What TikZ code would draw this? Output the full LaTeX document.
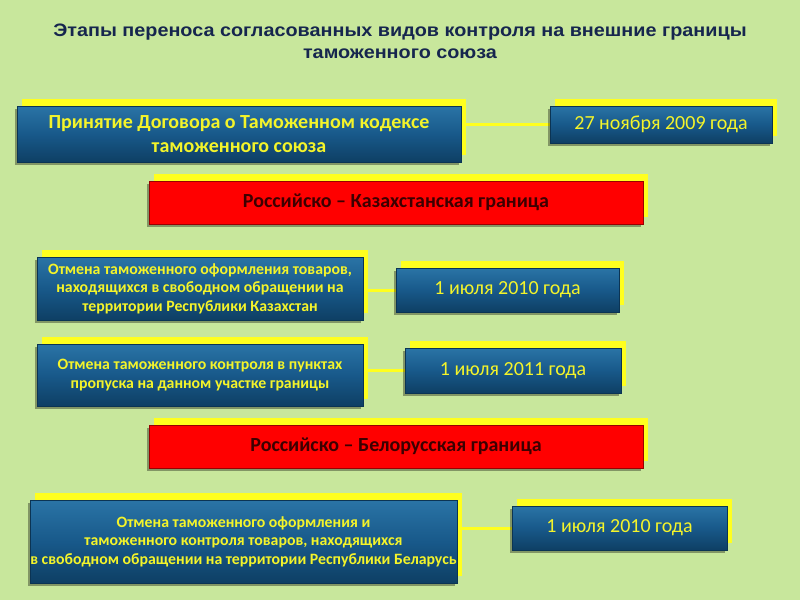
\documentclass[tikz,border=0pt]{standalone}
\usepackage{fontspec}
\setmainfont{Carlito}
\newfontfamily\titlefont[FakeStretch=1.1]{Liberation Sans}
\usetikzlibrary{shadows,backgrounds}
\pgfdeclarelayer{bgfill}
\pgfsetlayers{bgfill,background,main}
\definecolor{bgc}{HTML}{C8E79C}
\definecolor{titlec}{HTML}{16264E}
\definecolor{ylw}{HTML}{FFFF1E}
\definecolor{ytxt}{HTML}{F4F42A}
\definecolor{btop}{HTML}{2A74A6}
\definecolor{bmid}{HTML}{18598A}
\definecolor{bbot}{HTML}{0E3F64}
\definecolor{bedge}{HTML}{0B3454}
\definecolor{rtxt}{HTML}{3C0000}
\tikzset{
  yshadow/.style={general shadow={fill=ylw, shadow xshift=5pt, shadow yshift=7pt}},
  dshadow/.style={general shadow={fill=black, opacity=0.35, shadow xshift=-2pt, shadow yshift=-3pt}},
  bluebox/.style={yshadow, dshadow, draw=bedge, line width=0.6pt,
    top color=btop, bottom color=bbot, middle color=bmid,
    text=ytxt, align=center, inner sep=0pt},
  redbox/.style={yshadow, dshadow, draw=red!60!black, line width=0.6pt, fill=red,
    text=rtxt, align=center, inner sep=0pt,
    font=\fontsize{20}{24}\selectfont\bfseries},
  bigtxt/.style={font=\fontsize{20}{24}\selectfont},
  bigbold/.style={font=\fontsize{20}{24}\selectfont\bfseries},
  smalltxt/.style={font=\fontsize{15.8}{18.5}\selectfont\bfseries},
  conn/.style={draw=ylw, line width=3pt}
}
\begin{document}
\begin{tikzpicture}[x=1pt,y=-1pt]
\useasboundingbox (0,0) rectangle (800,600);
\begin{pgfonlayer}{bgfill}
\fill[bgc] (0,0) rectangle (800,600);
\end{pgfonlayer}
\node[titlec, font=\titlefont\fontsize{18}{22}\selectfont\bfseries, align=center] (title) at (400,41)
  {Этапы переноса согласованных видов контроля на внешние границы\\таможенного союза};

\node[bluebox, bigbold, minimum width=444pt, minimum height=56pt] (a) at (239,134)
  {Принятие Договора о Таможенном кодексе\\таможенного союза};
\node[bluebox, bigtxt, minimum width=222pt, minimum height=37pt] (b) at (661,124.5)
  {27 ноября 2009 года};
\node[redbox, minimum width=494pt, minimum height=43pt] (r1) at (396,202.5)
  {Российско – Казахстанская граница};
\node[bluebox, smalltxt, minimum width=326pt, minimum height=63pt] (c) at (200,288.5)
  {Отмена таможенного оформления товаров,\\находящихся в свободном обращении на\\территории Республики Казахстан};
\node[bluebox, bigtxt, minimum width=223pt, minimum height=44pt] (d) at (507.5,290)
  {1 июля 2010 года};
\node[bluebox, smalltxt, minimum width=326pt, minimum height=62pt] (e) at (200,375)
  {Отмена таможенного контроля в пунктах\\пропуска на данном участке границы};
\node[bluebox, bigtxt, minimum width=216pt, minimum height=45pt] (f) at (513,370.5)
  {1 июля 2011 года};
\node[redbox, minimum width=494pt, minimum height=43pt] (r2) at (396,446.5)
  {Российско – Белорусская граница};
\node[bluebox, smalltxt, minimum width=427pt, minimum height=83pt] (g) at (243.5,541.5)
  {Отмена таможенного оформления и\\таможенного контроля товаров, находящихся\\в свободном обращении на территории Республики Беларусь};
\node[bluebox, bigtxt, minimum width=215pt, minimum height=44pt] (h) at (619.5,528)
  {1 июля 2010 года};

\begin{scope}[on background layer]
\draw[conn] (a.east |- b.west) -- (b.west);
\draw[conn] (c.east |- d.west) -- (d.west);
\draw[conn] (e.east |- f.west) -- (f.west);
\draw[conn] (g.east |- h.west) -- (h.west);
\end{scope}
\end{tikzpicture}
\end{document}
